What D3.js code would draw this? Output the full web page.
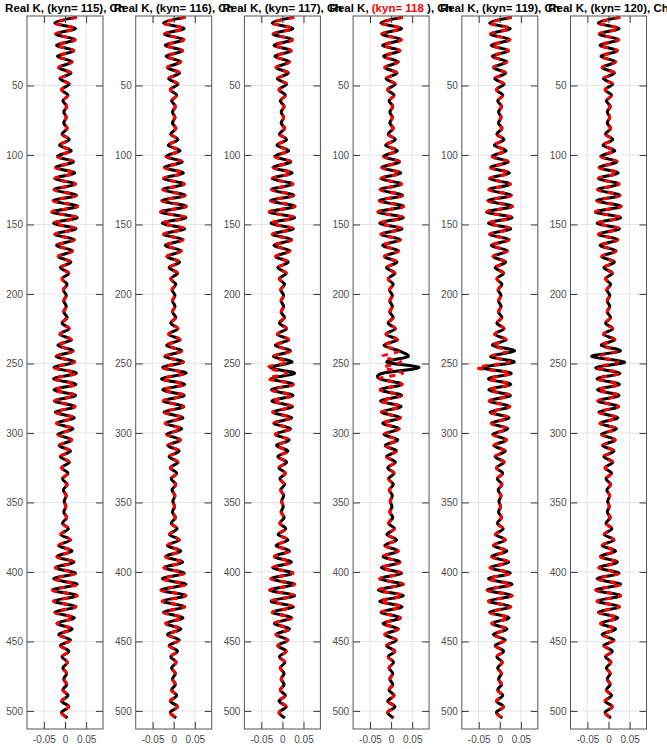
<!DOCTYPE html>
<meta charset="utf-8">
<head>
  <title>Real K traces</title>
</head>

<style>
body {
  margin: 0;
  background: #fff;
  font-family: "Liberation Sans", Arial, Helvetica, sans-serif;
}
</style>

<body>
  <div id="content"></div>

  <script src="https://cdnjs.cloudflare.com/ajax/libs/d3/7.8.5/d3.min.js"></script>

  <script>
// sample index of each extremum of the trace
var depth = [1,5,9,13,17,21,25,29,33,37,41,45,49,53,57,61,65,69,73,77,81,85,89,93,97,
  101,105,109,113,117,121,125,129,133,137,141,145,149,153,157,161,165,169,173,177,181,185,189,193,197,
  201,205,209,213,217,221,225,229,233,237,241,245,249,253,257,261,265,269,273,277,281,285,289,293,297,
  301,305,309,313,317,321,325,329,333,337,341,345,349,353,357,361,365,369,373,377,381,385,389,393,397,
  401,405,409,413,417,421,425,429,433,437,441,445,449,453,457,461,465,469,473,477,481,485,489,493,497,
  501,505];

// trace amplitude at those extrema (x 0.001)
var trace = [28,-24,25,-22,24,-20,21,-18,17,-15,
  14,-12,10,-8,7,-5,4,-3,3,-3,
  5,-7,10,-13,15,-18,20,-22,23,-24,
  25,-26,27,-28,30,-31,29,-27,26,-24,
  22,-20,18,-16,14,-11,9,-7,5,-4,
  3,-3,3,-3,5,-7,10,-12,15,-17,
  19,-21,23,-26,27,-27,26,-26,25,-25,
  24,-23,22,-20,19,-17,16,-14,13,-11,
  10,-8,7,-6,5,-4,3,-2,2,-3,
  4,-6,8,-10,13,-15,17,-19,21,-23,
  25,-27,29,-30,29,-27,26,-24,22,-19,
  17,-15,13,-11,9,-7,6,-5,4,-3,
  4,-5,7,-8,9,-8,6];

var kyn = [115, 116, 117, 118, 119, 120];
var highlight = [false, false, false, true, false, false];

// per panel departures from the trace, [sample, amplitude x 0.001]
var blackEdits = [
  [],
  [[257, 30], [261, -29]],
  [[253, -28], [257, 29]],
  [[245, 40], [249, -10], [253, 66], [257, -20]],
  [[241, 35], [245, -22], [249, 34], [253, -42]],
  [[241, 28], [245, -40], [249, 38], [253, -30]]
];
var redEdits = [
  [],
  [],
  [[249, 12], [253, -36], [257, 10], [261, -34]],
  [[253, -18]],
  [[253, -54]],
  []
];

var xTicks = [-0.05, 0, 0.05];
var xTickLabels = ['-0.05', '0', '0.05'];
var yTicks = [50, 100, 150, 200, 250, 300, 350, 400, 450, 500];

var W = 667, H = 749;
var plotTop = 16, plotBottom = 729, left0 = 27, panelW = 76, step = 108.7;

var svg = d3.select('#content').append('svg')
  .attr('width', W)
  .attr('height', H);

var y = d3.scaleLinear().domain([0, 513]).range([plotTop, plotBottom]);
var x = d3.scaleLinear().domain([-0.09, 0.09]).range([0, panelW]);

function series(edits) {
  var map = new Map(edits);
  return depth.map(function(d, i) {
    var v = map.has(d) ? map.get(d) : trace[i];
    return {d: d, v: v / 1000};
  });
}

var line = d3.line()
  .x(function(p) { return x(p.v); })
  .y(function(p) { return y(p.d); })
  .curve(d3.curveCardinal.tension(0));

kyn.forEach(function(k, i) {
  var g = svg.append('g').attr('transform', 'translate(' + (left0 + i * step) + ',0)');

  g.append('defs').append('clipPath').attr('id', 'clip' + i)
    .append('rect').attr('x', 0).attr('y', plotTop).attr('width', panelW).attr('height', plotBottom - plotTop);

  // grid
  g.selectAll('.gx').data(xTicks).enter().append('line')
    .attr('x1', function(d) { return x(d); }).attr('x2', function(d) { return x(d); })
    .attr('y1', plotTop).attr('y2', plotBottom)
    .attr('stroke', '#e6e6e6').attr('stroke-width', 1);
  g.selectAll('.gy').data(yTicks).enter().append('line')
    .attr('x1', 0).attr('x2', panelW)
    .attr('y1', function(d) { return y(d); }).attr('y2', function(d) { return y(d); })
    .attr('stroke', '#e6e6e6').attr('stroke-width', 1);

  var plot = g.append('g').attr('clip-path', 'url(#clip' + i + ')');
  plot.append('path')
    .attr('d', line(series(blackEdits[i])))
    .attr('fill', 'none').attr('stroke', '#000').attr('stroke-width', 3);
  plot.append('path')
    .attr('d', line(series(redEdits[i])))
    .attr('fill', 'none').attr('stroke', '#ff0000').attr('stroke-width', 3)
    .attr('stroke-dasharray', '6,6');

  // axes, matlab style: ticks inside on all four sides
  var gl = g.append('g')
    .call(d3.axisLeft(y).tickValues(yTicks).tickSize(-7).tickPadding(4));
  var gr = g.append('g').attr('transform', 'translate(' + panelW + ',0)')
    .call(d3.axisRight(y).tickValues(yTicks).tickSize(-7).tickFormat(''));
  var gb = g.append('g').attr('transform', 'translate(0,' + plotBottom + ')')
    .call(d3.axisBottom(x).tickValues(xTicks).tickSize(-7).tickPadding(7)
      .tickFormat(function(d, j) { return xTickLabels[j]; }));
  var gt = g.append('g').attr('transform', 'translate(0,' + plotTop + ')')
    .call(d3.axisTop(x).tickValues(xTicks).tickSize(-7).tickFormat(''));

  [gl, gr, gb, gt].forEach(function(a) {
    a.select('.domain').remove();
    a.selectAll('line').attr('stroke', '#3a3a3a').attr('stroke-width', 1);
    a.selectAll('text').attr('fill', '#4d4d4d').style('font-size', '10px')
      .style('font-family', '"Liberation Sans", Arial, sans-serif');
  });

  g.append('rect').attr('x', 0).attr('y', plotTop).attr('width', panelW).attr('height', plotBottom - plotTop)
    .attr('fill', 'none').attr('stroke', '#555').attr('stroke-width', 1);

  // title
  var t = g.append('text')
    .attr('x', panelW / 2).attr('y', 11.5)
    .attr('text-anchor', 'middle')
    .style('font-size', '11.5px').style('font-weight', 'bold');
  if (highlight[i]) {
    t.append('tspan').attr('fill', '#000').text('Real K, ');
    t.append('tspan').attr('fill', '#ff0000').text('(kyn= ' + k);
    t.append('tspan').attr('fill', '#000').text(' ), Ch');
  } else {
    t.append('tspan').attr('fill', '#000').text('Real K, (kyn= ' + k + '), Ch');
  }
});
  </script>
</body>
</html>
